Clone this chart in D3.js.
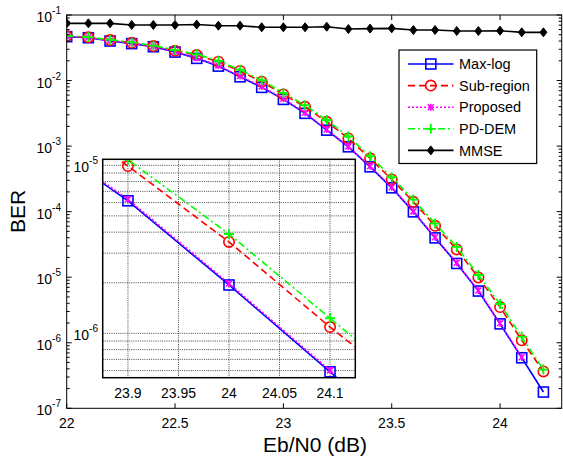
<!DOCTYPE html>
<html><head><meta charset="utf-8">
<script src="https://cdn.jsdelivr.net/npm/d3@7"></script>
<style>html,body{margin:0;padding:0;background:#fff}svg{display:block}text{font-family:"Liberation Sans",Arial,sans-serif;fill:#000}</style>
</head><body><svg id="c" width="563" height="459"></svg>
<script>
const ebn0 = [22.0,22.1,22.2,22.3,22.4,22.5,22.6,22.7,22.8,22.9,23.0,23.1,23.2,23.3,23.4,23.5,23.6,23.7,23.8,23.9,24.0,24.1,24.2];
const maxLog = [0.0467,0.0450,0.0401,0.0366,0.0328,0.0272,0.0218,0.0166,0.0114,0.00787,0.00516,0.00316,0.00175,0.000975,0.000483,0.000231,9.93e-5,3.98e-5,1.62e-5,6.15e-6,1.94e-6,5.9e-7,1.77e-7];
const subRegion = [0.0477,0.0457,0.0415,0.0377,0.0336,0.0285,0.0245,0.0194,0.0140,0.0096,0.00615,0.00398,0.00235,0.00131,0.00065,0.00031,0.000141,6.07e-5,2.65e-5,9.9e-6,3.5e-6,1.09e-6,3.65e-7];
const proposed = [0.0470,0.0453,0.0405,0.0370,0.0332,0.0276,0.0222,0.0170,0.0117,0.0081,0.00528,0.00323,0.00179,0.00099,0.000492,0.000236,0.000101,4.07e-5,1.66e-5,6.28e-6,1.98e-6,6.02e-7];
const pdDem = [0.0480,0.0460,0.0420,0.0382,0.0342,0.0292,0.0251,0.0200,0.0146,0.0101,0.00648,0.00420,0.00250,0.00140,0.00070,0.000335,0.000153,6.6e-5,2.9e-5,1.08e-5,3.9e-6,1.23e-6,3.9e-7];
const mmse = [0.0746,0.0746,0.0746,0.0705,0.0705,0.0705,0.0715,0.0687,0.0687,0.0649,0.0649,0.0649,0.0663,0.0611,0.0620,0.0626,0.0590,0.0590,0.0570,0.0570,0.0576,0.0544,0.0544];
const seriesNames = ["Max-log","Sub-region","Proposed","PD-DEM","MMSE"];
const xTicks = [22,22.5,23,23.5,24];
const yDecades = [-7,-6,-5,-4,-3,-2,-1];
const insetXTicks = [23.9,23.95,24,24.05,24.1];
const insetYDecades = [-6,-5];

const svg = d3.select("#c");
const M = {l:66.7, r:561.7, t:15, b:408.3};
const x = d3.scaleLinear().domain([22, 24.2844]).range([M.l, M.r]);
const y = d3.scaleLog().domain([1e-7, 1e-1]).range([M.b, M.t]);

const styles = [
  {data: maxLog, color:"#0000ff", dash:null, marker:"square"},
  {data: subRegion, color:"#ff0000", dash:"7,4", marker:"circle"},
  {data: proposed, color:"#ff00ff", dash:"2,2", marker:"x"},
  {data: pdDem, color:"#00ff00", dash:"7,3,2,3", marker:"plus"},
  {data: mmse, color:"#000000", dash:null, marker:"diamond"}
];

function drawMarker(g, type, cx, cy, color){
  if(type==="square") g.append("rect").attr("x",cx-5).attr("y",cy-5).attr("width",10).attr("height",10).attr("fill","none").attr("stroke",color).attr("stroke-width",1.6);
  else if(type==="circle") g.append("circle").attr("cx",cx).attr("cy",cy).attr("r",5.2).attr("fill","none").attr("stroke",color).attr("stroke-width",1.6);
  else if(type==="x") g.append("path").attr("d",`M${cx-3},${cy-3}L${cx+3},${cy+3}M${cx-3},${cy+3}L${cx+3},${cy-3}M${cx},${cy-3.5}L${cx},${cy+3.5}`).attr("stroke",color).attr("stroke-width",1.5).attr("fill","none");
  else if(type==="plus") g.append("path").attr("d",`M${cx-5},${cy}L${cx+5},${cy}M${cx},${cy-5}L${cx},${cy+5}`).attr("stroke",color).attr("stroke-width",1.8).attr("fill","none");
  else if(type==="diamond") g.append("path").attr("d",`M${cx},${cy-4.5}L${cx+3.5},${cy}L${cx},${cy+4.5}L${cx-3.5},${cy}Z`).attr("fill",color).attr("stroke",color).attr("stroke-width",1);
}

function drawSeries(g, xs, ys){
  styles.forEach(s=>{
    const pts = s.data.map((v,i)=>[xs(ebn0[i]), ys(v)]);
    const p = g.append("path").attr("d", d3.line()(pts)).attr("fill","none").attr("stroke",s.color).attr("stroke-width",1.6);
    if(s.dash) p.attr("stroke-dasharray", s.dash);
    pts.forEach(q=>drawMarker(g, s.marker, q[0], q[1], s.color));
  });
}

const defs = svg.append("defs");
defs.append("clipPath").attr("id","mainClip").append("rect").attr("x",M.l).attr("y",M.t-6).attr("width",M.r-M.l).attr("height",M.b-M.t+12);

drawSeries(svg.append("g").attr("clip-path","url(#mainClip)"), x, y);

const ax = svg.append("g");
ax.append("rect").attr("x",M.l).attr("y",M.t).attr("width",M.r-M.l).attr("height",M.b-M.t).attr("fill","none").attr("stroke","#000").attr("stroke-width",1);
xTicks.forEach(t=>{
  const px = x(t);
  ax.append("line").attr("x1",px).attr("x2",px).attr("y1",M.b).attr("y2",M.b-5).attr("stroke","#000");
  ax.append("line").attr("x1",px).attr("x2",px).attr("y1",M.t).attr("y2",M.t+5).attr("stroke","#000");
  ax.append("text").attr("x",px).attr("y",428).attr("text-anchor","middle").attr("font-size",14).text(String(t));
});
yDecades.forEach(e=>{
  const py = y(Math.pow(10,e));
  ax.append("line").attr("x1",M.l).attr("x2",M.l+5).attr("y1",py).attr("y2",py).attr("stroke","#000");
  ax.append("line").attr("x1",M.r).attr("x2",M.r-5).attr("y1",py).attr("y2",py).attr("stroke","#000");
  const tx = ax.append("text").attr("x",61).attr("y",py+7).attr("text-anchor","end").attr("font-size",14);
  tx.append("tspan").text("10");
  tx.append("tspan").attr("dy",-8).attr("font-size",10).text(String(e));
  if(e<-1){
    for(let k=2;k<=9;k++){
      const my = y(k*Math.pow(10,e));
      ax.append("line").attr("x1",M.l).attr("x2",M.l+3).attr("y1",my).attr("y2",my).attr("stroke","#000");
      ax.append("line").attr("x1",M.r).attr("x2",M.r-3).attr("y1",my).attr("y2",my).attr("stroke","#000");
    }
  }
});
svg.append("text").attr("x",315).attr("y",452).attr("text-anchor","middle").attr("font-size",21).text("Eb/N0 (dB)");
svg.append("text").attr("transform","translate(25,211.5) rotate(-90)").attr("text-anchor","middle").attr("font-size",21).text("BER");

const lg = svg.append("g");
lg.append("rect").attr("x",399).attr("y",50).attr("width",137.7).attr("height",113.5).attr("fill","#fff").attr("stroke","#000").attr("stroke-width",1.2);
seriesNames.forEach((n,i)=>{
  const ly = 64 + i*21.6;
  const s = styles[i];
  const l = lg.append("line").attr("x1",408).attr("x2",453.5).attr("y1",ly).attr("y2",ly).attr("stroke",s.color).attr("stroke-width",1.6);
  if(s.dash) l.attr("stroke-dasharray", s.dash);
  drawMarker(lg, s.marker, 430.8, ly, s.color);
  lg.append("text").attr("x",459).attr("y",ly+5.2).attr("font-size",14.5).text(n);
});

const I = {l:102.7, r:355.3, t:159.3, b:377.7};
const xi = d3.scaleLinear().domain([23.875, 24.125]).range([I.l, I.r]);
const yi = d3.scaleLog().domain([5.445e-7, 1.0857e-5]).range([I.b, I.t]);
defs.append("clipPath").attr("id","insetClip").append("rect").attr("x",I.l).attr("y",I.t).attr("width",I.r-I.l).attr("height",I.b-I.t);
const ig = svg.append("g");
ig.append("rect").attr("x",I.l).attr("y",I.t).attr("width",I.r-I.l).attr("height",I.b-I.t).attr("fill","#fff");
const grid = ig.append("g").attr("stroke","#444").attr("stroke-width",1).attr("stroke-dasharray","1,1.2");
insetXTicks.forEach(t=>{
  grid.append("line").attr("x1",xi(t)).attr("x2",xi(t)).attr("y1",I.t).attr("y2",I.b);
  ig.append("text").attr("x",xi(t)).attr("y",397.5).attr("text-anchor","middle").attr("font-size",14).text(String(t));
});
const yGridVals = [];
[-7,-6,-5].forEach(e=>{ for(let k=1;k<=9;k++){ const v=k*Math.pow(10,e); if(v>=5.445e-7 && v<=1.0857e-5) yGridVals.push(v);} });
yGridVals.forEach(v=>{
  grid.append("line").attr("x1",I.l).attr("x2",I.r).attr("y1",yi(v)).attr("y2",yi(v));
});
insetYDecades.forEach(e=>{
  const py = yi(Math.pow(10,e));
  const tx = ig.append("text").attr("x",98).attr("y",py+7).attr("text-anchor","end").attr("font-size",14);
  tx.append("tspan").text("10");
  tx.append("tspan").attr("dy",-8).attr("font-size",10).text(String(e));
});
drawSeries(ig.append("g").attr("clip-path","url(#insetClip)"), xi, yi);
ig.append("rect").attr("x",I.l).attr("y",I.t).attr("width",I.r-I.l).attr("height",I.b-I.t).attr("fill","none").attr("stroke","#000").attr("stroke-width",1.5);
</script>
</body></html>
